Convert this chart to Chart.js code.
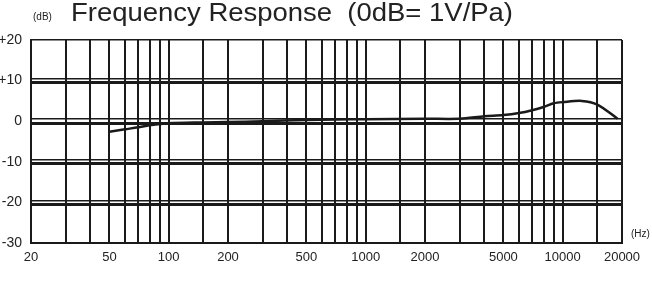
<!DOCTYPE html>
<html>
<head>
<meta charset="utf-8">
<script src="https://cdn.jsdelivr.net/npm/chart.js@4/dist/chart.umd.min.js"></script>
<style>
  html, body { margin: 0; padding: 0; background: #fff; }
  #wrap { width: 652px; height: 305px; }
</style>
</head>
<body>
<div id="wrap"><canvas id="freqChart" width="652" height="305"></canvas></div>
<script>
// response curve (Hz, dB)
const freqs = [50, 60, 70, 80, 100, 150, 200, 300, 500, 700, 1000, 2000, 3000, 4000, 5000, 6000, 7000, 8000, 9000, 10000, 12500, 15000, 19000];
const levels = [-2.6, -2.0, -1.5, -1.0, -0.5, -0.3, -0.2, 0, 0.3, 0.4, 0.5, 0.6, 0.6, 1.2, 1.5, 2.0, 2.7, 3.5, 4.4, 4.7, 5.0, 4.1, 0.6];

// grid frequencies and which of them carry a label
const gridFreqs = [20, 30, 40, 50, 60, 70, 80, 90, 100, 150, 200, 300, 400, 500, 600, 700, 800, 900, 1000, 1500, 2000, 3000, 4000, 5000, 6000, 7000, 8000, 9000, 10000, 15000, 20000];
const freqLabels = [20, 50, 100, 200, 500, 1000, 2000, 5000, 10000, 20000];

// dB axis labels and the doubled grid lines (thin upper, heavy lower)
const dbTicks = [-30, -20, -10, 0, 10, 20];
const dbGridThin = [20, 10.5, 0.5, -9.5, -19.5];
const dbGridHeavy = [9.5, -0.5, -10.5, -20.5];

const font = '"Liberation Sans", Arial, sans-serif';

const textPlugin = {
    id: 'textPlugin',
    afterDraw(chart) {
        const ctx = chart.ctx;
        ctx.save();
        ctx.fillStyle = '#222';
        ctx.textBaseline = 'alphabetic';
        ctx.font = '26px ' + font;
        const title = 'Frequency Response  (0dB= 1V/Pa)';
        const w = ctx.measureText(title).width;
        ctx.translate(71, 21);
        ctx.scale(442 / w, 1);
        ctx.fillText(title, 0, 0);
        ctx.restore();

        ctx.save();
        ctx.fillStyle = '#222';
        ctx.font = '10px ' + font;
        ctx.textBaseline = 'middle';
        ctx.fillText('(dB)', 33, 17);
        ctx.fillText('(Hz)', 631, 234);
        ctx.restore();
    }
};

new Chart(document.getElementById('freqChart'), {
    type: 'line',
    data: {
        datasets: [{
            data: freqs.map((f, i) => ({ x: f, y: levels[i] })),
            borderColor: '#1a1a1a',
            borderWidth: 2.5,
            pointRadius: 0,
            tension: 0.3,
            fill: false
        }]
    },
    options: {
        responsive: false,
        animation: false,
        layout: { padding: { top: 40, right: 30, left: 0, bottom: 0 } },
        plugins: {
            legend: { display: false },
            tooltip: { enabled: false }
        },
        scales: {
            x: {
                type: 'logarithmic',
                min: 20,
                max: 20000,
                afterBuildTicks: (scale) => { scale.ticks = gridFreqs.map(v => ({ value: v })); },
                afterFit: (scale) => { scale.height = 62; },
                ticks: {
                    autoSkip: false,
                    maxRotation: 0,
                    padding: 7,
                    color: '#222',
                    font: { family: font, size: 13 },
                    callback: (v) => freqLabels.includes(v) ? String(v) : ''
                },
                grid: { color: '#1a1a1a', lineWidth: 2, drawTicks: false },
                border: { color: '#1a1a1a', width: 2 }
            },
            y: {
                min: -30,
                max: 20,
                afterBuildTicks: (scale) => { scale.ticks = dbTicks.map(v => ({ value: v })); },
                afterFit: (scale) => { scale.width = 31; },
                ticks: {
                    padding: 9,
                    color: '#222',
                    font: { family: font, size: 14 },
                    callback: (v) => v > 0 ? '+' + v : String(v)
                },
                grid: { display: false, drawTicks: false },
                border: { color: '#1a1a1a', width: 1.5 }
            },
            y2: {
                position: 'right',
                min: -30,
                max: 20,
                afterBuildTicks: (scale) => {
                    scale.ticks = dbGridThin.concat(dbGridHeavy).map(v => ({ value: v }));
                },
                afterFit: (scale) => { scale.width = 0; },
                ticks: { display: false },
                grid: {
                    color: '#1a1a1a',
                    drawTicks: false,
                    lineWidth: (c) => (c.tick && dbGridHeavy.includes(c.tick.value)) ? 3 : 1.6
                },
                border: { display: false }
            }
        }
    },
    plugins: [textPlugin]
});
</script>
</body>
</html>
